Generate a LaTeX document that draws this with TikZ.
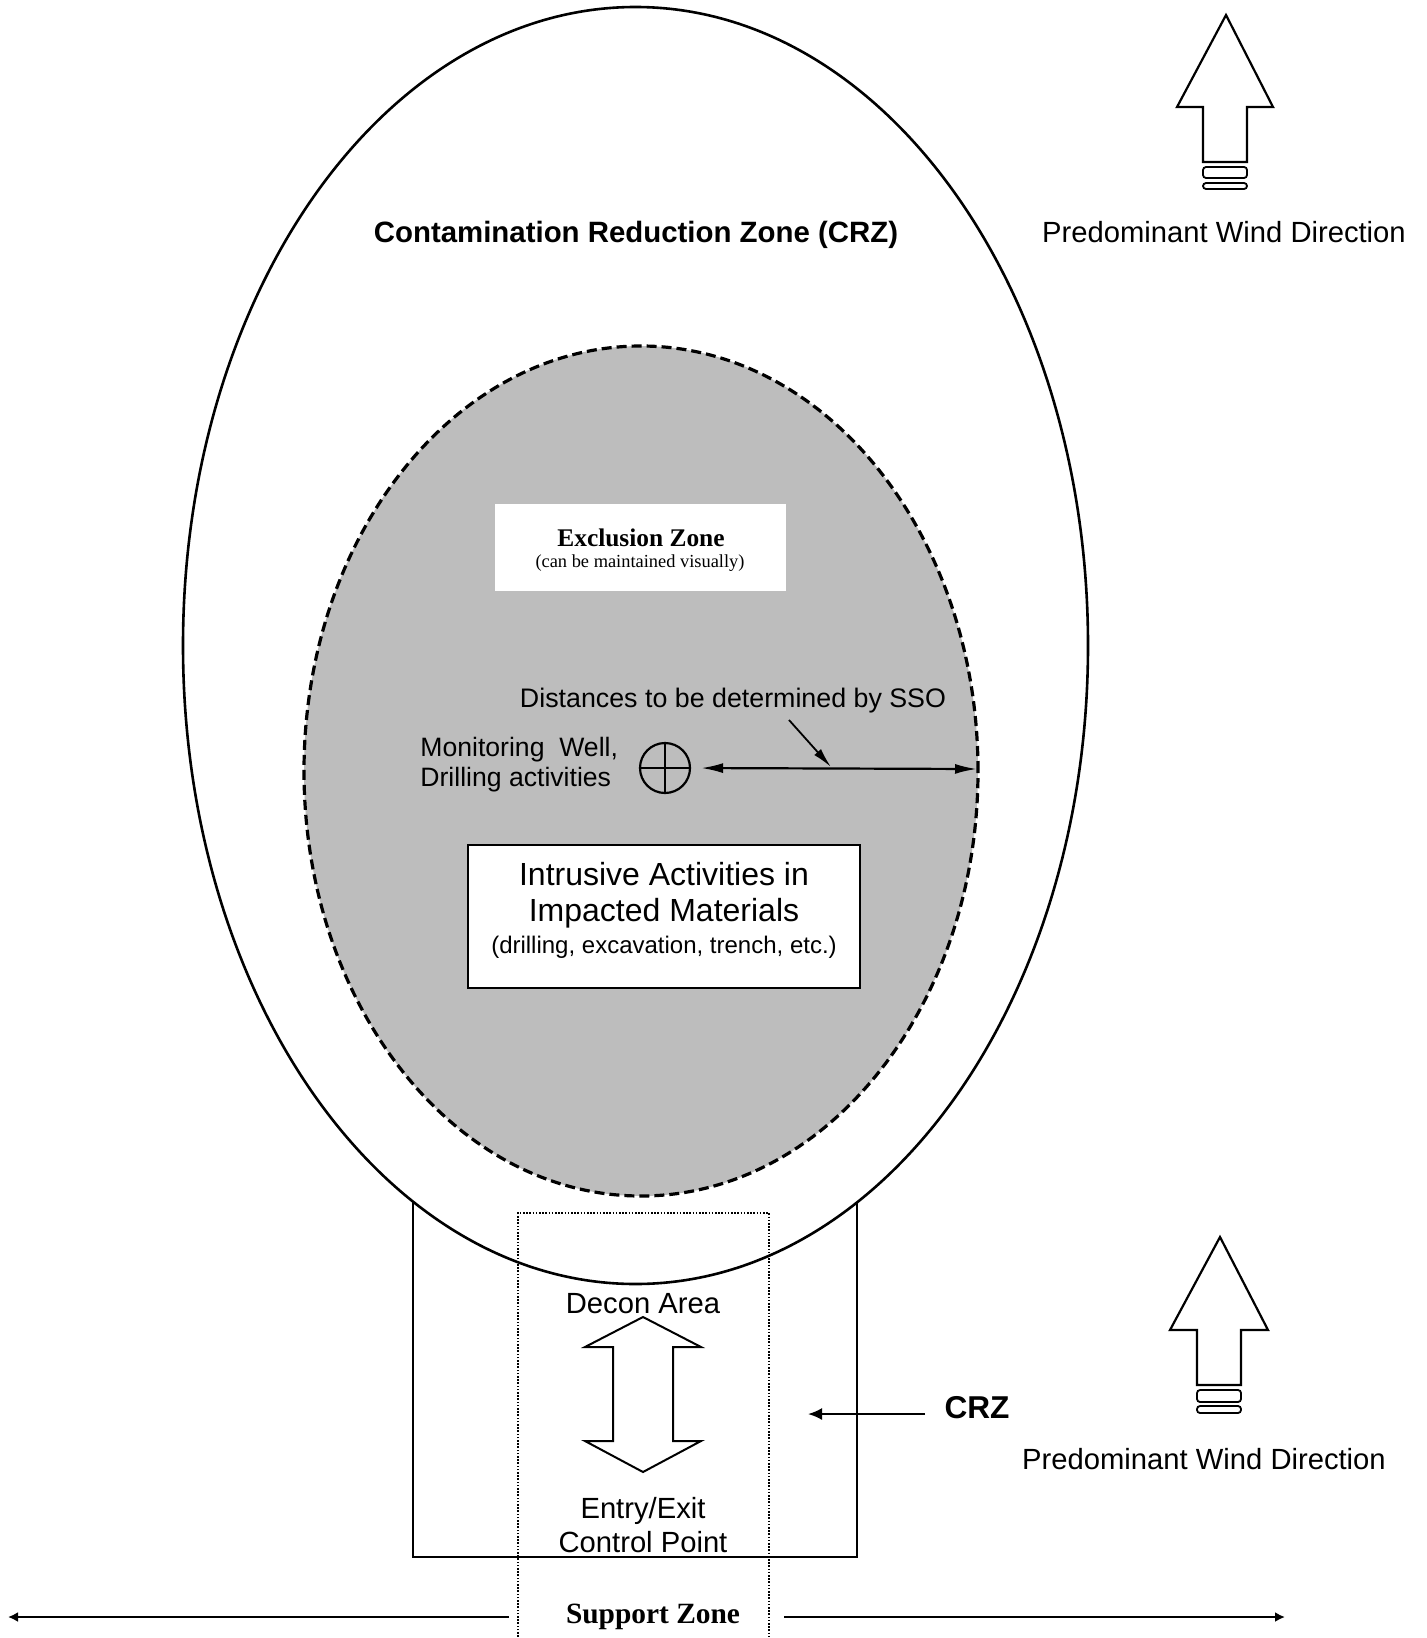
\documentclass[tikz,border=0pt]{standalone}
\usepackage{fontspec}
\setmainfont{Liberation Sans}
\newfontfamily\tnrfont{Liberation Serif}
\usetikzlibrary{arrows.meta}
\tikzset{
  txt/.style={inner sep=0pt, anchor=base},
  zoneline/.style={line width=1.1pt},
  windarrow/.style={draw, line width=1.1pt, fill=white, line join=miter},
  windbar/.style={draw, line width=0.9pt, rounded corners=1.5pt},
  dotline/.style={line width=0.8pt, dash pattern=on 0.8pt off 0.8pt},
  dblarrow/.style={line width=1.1pt, {Latex[length=11pt,width=5pt]}-{Latex[length=11pt,width=5pt]}},
  ptrarrow/.style={line width=0.9pt, -{Latex[length=10pt,width=4.5pt]}},
  crzarrow/.style={line width=1pt, -{Latex[length=7pt,width=6pt]}},
  szarrow/.style={line width=1.3pt, -{Latex[length=5pt,width=5pt]}},
}
\begin{document}
\begin{tikzpicture}[x=0.5pt,y=-0.5pt]
\useasboundingbox (0,0) rectangle (1427,1638);
\fill[white] (0,0) rectangle (1427,1638);

% CRZ rectangle below the ellipse
\draw[zoneline] (413,1150) rectangle (857,1557);

% outer ellipse (Contamination Reduction Zone)
\draw[line width=1.3pt, fill=white] (635.5,645.5) ellipse [x radius=226.25pt, y radius=319.25pt];

% exclusion zone (gray dashed ellipse)
\draw[line width=1.6pt, dash pattern=on 5pt off 2.5pt, fill=black!26] (641,771) ellipse [x radius=168.5pt, y radius=212.5pt];

% dotted decon corridor
\draw[dotline] (518,1640) -- (518,1213) -- (769,1213) -- (769,1640);

% title
\node[txt, font=\bfseries\fontsize{14.7}{17}\selectfont] (crztitle) at (636,242) {Contamination Reduction Zone (CRZ)};

% exclusion zone label box
\node[fill=white, minimum width=145.5pt, minimum height=43.5pt, inner sep=0pt] (exbox) at (640.5,547) {};
\node[txt, font=\tnrfont\bfseries\fontsize{12.7}{15}\selectfont] (extitle) at (641,546) {Exclusion Zone};
\node[txt, font=\tnrfont\fontsize{9.2}{11}\selectfont] (exsub) at (640,567) {(can be maintained visually)};

% distances label and arrows
\node[txt, font=\fontsize{13.4}{16}\selectfont] (dist) at (733,707) {Distances to be determined by SSO};
\node[txt, anchor=base west, font=\fontsize{13.3}{16}\selectfont] (mon1) at (420,756) {Monitoring\ \ Well,};
\node[txt, anchor=base west, font=\fontsize{13.3}{16}\selectfont] (mon2) at (420,786) {Drilling activities};
\node[draw, circle, line width=1.1pt, minimum size=25pt, inner sep=0pt] (well) at (665,768) {};
\draw[line width=1.1pt] (well.north) -- (well.south) (well.west) -- (well.east);
\coordinate (grayR) at (977,769);
\draw[dblarrow, shorten <=5pt] (well.east) -- (grayR);
\coordinate (ptrA) at (789,720);
\coordinate (ptrB) at (831,767);
\draw[ptrarrow] (ptrA) -- (ptrB);

% intrusive activities box
\node[draw, line width=1.3pt, fill=white, minimum width=196pt, minimum height=71.5pt, inner sep=0pt] (ibox) at (664,916.5) {};
\node[txt, font=\fontsize{16}{19}\selectfont] (i1) at (664,885) {Intrusive Activities in};
\node[txt, font=\fontsize{16}{19}\selectfont] (i2) at (664,921) {Impacted Materials};
\node[txt, font=\fontsize{12}{14}\selectfont] (i3) at (664,953) {(drilling, excavation, trench, etc.)};

% decon area
\node[txt, font=\fontsize{14.6}{17}\selectfont] (decon) at (643,1313) {Decon Area};
\draw[line width=1pt, fill=white, line join=miter]
  (643,1317) -- (701,1347) -- (673,1347) -- (673,1441) -- (701,1441) -- (643,1472)
  -- (585,1441) -- (613,1441) -- (613,1347) -- (585,1347) -- cycle;
\node[txt, font=\fontsize{14.6}{17}\selectfont] (entry) at (643,1518) {Entry/Exit};
\node[txt, font=\fontsize{14.6}{17}\selectfont] (ctrl) at (643,1552) {Control Point};

% CRZ label with arrow
\node[txt, font=\bfseries\fontsize{15.8}{18}\selectfont] (crzlbl) at (977,1418) {CRZ};
\coordinate (crzpt) at (808,1414);
\draw[crzarrow] (crzlbl.west |- crzpt) ++(-19,0) -- (crzpt);

% support zone
\node[txt, font=\tnrfont\bfseries\fontsize{14.7}{17}\selectfont] (sz) at (653,1623) {Support Zone};
\coordinate (szL) at (509,1617);
\coordinate (szLend) at (8,1617);
\coordinate (szR) at (784,1617);
\coordinate (szRend) at (1285,1617);
\draw[szarrow] (szL) -- (szLend);
\draw[szarrow] (szR) -- (szRend);

% top wind arrow
\draw[windarrow] (1226,15) -- (1273,107) -- (1247,107) -- (1247,162) -- (1203,162) -- (1203,107) -- (1177,107) -- cycle;
\draw[windbar] (1203,167) rectangle (1247,178);
\draw[windbar] (1203,183) rectangle (1247,189);
\node[txt, font=\fontsize{14.6}{17}\selectfont] (wind1) at (1224,242) {Predominant Wind Direction};

% bottom wind arrow
\draw[windarrow] (1220,1237) -- (1268,1330) -- (1241,1330) -- (1241,1385) -- (1197,1385) -- (1197,1330) -- (1170,1330) -- cycle;
\draw[windbar] (1197,1390) rectangle (1241,1402);
\draw[windbar] (1197,1406) rectangle (1241,1413);
\node[txt, font=\fontsize{14.6}{17}\selectfont] (wind2) at (1204,1469) {Predominant Wind Direction};
\end{tikzpicture}
\end{document}
